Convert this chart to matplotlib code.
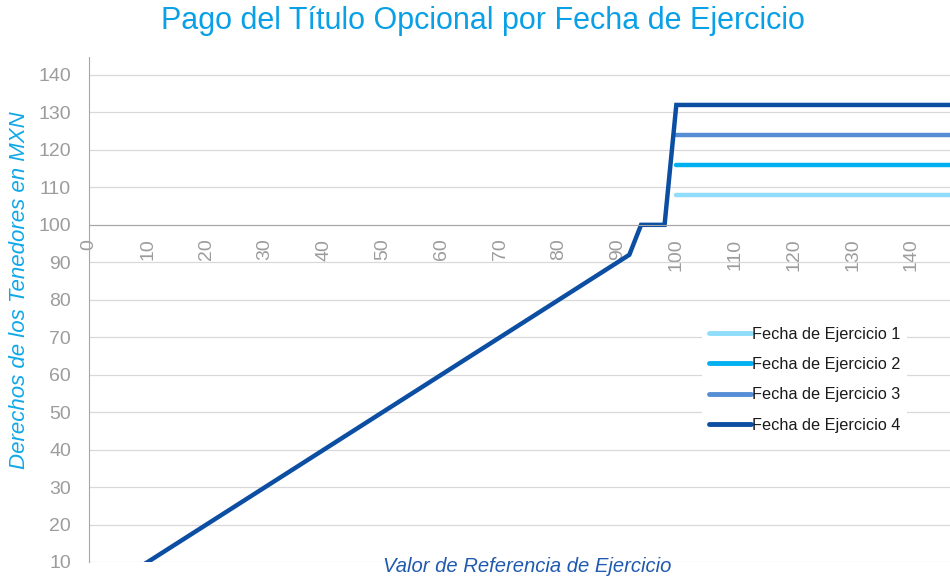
import matplotlib
matplotlib.use("Agg")
import matplotlib.pyplot as plt

plt.rcParams['font.family'] = ['Liberation Sans', 'DejaVu Sans']

# datos del pago por fecha de ejercicio
x_base = [0, 92, 94, 98, 100, 150]
y_fecha4 = [0, 92, 100, 100, 132, 132]
x_plano = [100, 150]
y_fecha1 = [108, 108]
y_fecha2 = [116, 116]
y_fecha3 = [124, 124]

etiquetas = ['Fecha de Ejercicio 1', 'Fecha de Ejercicio 2',
             'Fecha de Ejercicio 3', 'Fecha de Ejercicio 4']
colores = ['#8FDDFA', '#00B0F0', '#558ED5', '#0B4EA2']
y_ticks = [10, 20, 30, 40, 50, 60, 70, 80, 90, 100, 110, 120, 130, 140]
x_ticks = [0, 10, 20, 30, 40, 50, 60, 70, 80, 90, 100, 110, 120, 130, 140]

fig = plt.figure(figsize=(9.5, 5.81), dpi=100)
ax = fig.add_axes([89 / 950, 1 - 562 / 581, 1 - 89 / 950, (562 - 57) / 581])

ax.plot(x_plano, y_fecha1, color=colores[0], lw=3.2, solid_capstyle='round', label=etiquetas[0])
ax.plot(x_plano, y_fecha2, color=colores[1], lw=3.2, solid_capstyle='round', label=etiquetas[1])
ax.plot(x_plano, y_fecha3, color=colores[2], lw=3.2, solid_capstyle='round', label=etiquetas[2])
ax.plot(x_base, y_fecha4, color=colores[3], lw=3.2, solid_joinstyle='miter', label=etiquetas[3])

ax.set_xlim(0, 146.6)
ax.set_ylim(10, 144.8)
ax.set_yticks(y_ticks)
ax.set_xticks(x_ticks)

# eje x cruzando en 100
ax.spines['bottom'].set_position(('data', 100))
ax.spines['bottom'].set_color('#A6A6A6')
ax.spines['left'].set_color('#A6A6A6')
ax.spines['top'].set_visible(False)
ax.spines['right'].set_visible(False)

ax.grid(axis='y', color='#D9D9D9', lw=0.9)
ax.set_axisbelow(True)

ax.tick_params(axis='y', length=0, pad=13, labelsize=14, labelcolor='#9C9C9C')
ax.tick_params(axis='x', length=0, pad=10, labelsize=14, labelcolor='#9C9C9C',
               labelrotation=90)

leg = ax.legend(loc='upper left', bbox_to_anchor=(694 / 950, 1 - 312 / 581),
                bbox_transform=fig.transFigure, fontsize=11.7, frameon=True,
                facecolor='white', edgecolor='none', framealpha=1,
                handlelength=2.6, handletextpad=0.1, labelspacing=0.95,
                borderpad=0.4, fancybox=False)
for t in leg.get_texts():
    t.set_color('#1A1A1A')
for h in leg.get_lines():
    h.set_linewidth(3.5)
    h.set_solid_capstyle('round')

fig.text(483 / 950, 1 - 21 / 581, 'Pago del Título Opcional por Fecha de Ejercicio',
         ha='center', va='center', fontsize=22, color='#0AA0E6')
fig.text(20 / 950, 1 - 290 / 581, 'Derechos de los Tenedores en MXN',
         rotation=90, ha='center', va='center', fontsize=16, style='italic',
         color='#10A8E8')
fig.text(527 / 950, 1 - 567 / 581, 'Valor de Referencia de Ejercicio',
         ha='center', va='center', fontsize=14.6, style='italic', color='#1F5AAF')

fig.savefig('out.png', dpi=100)
